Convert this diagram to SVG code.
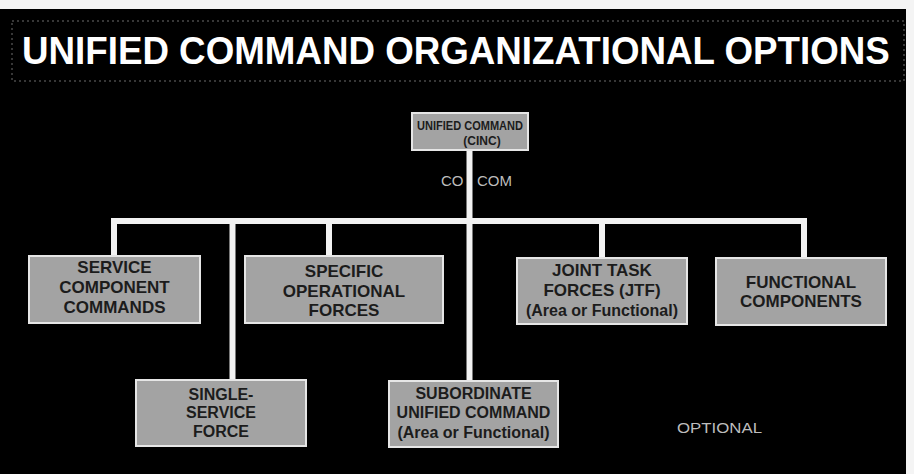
<svg xmlns="http://www.w3.org/2000/svg" width="914" height="474" viewBox="0 0 914 474">
  <defs>
    <style>
      .bg { fill: #000; }
      .box { fill: #a3a3a3; stroke: #e6e6e6; stroke-width: 2; }
      .bt { font-family: "Liberation Sans", Arial, sans-serif; font-weight: bold; font-size: 16px; fill: #1c1c1c; text-anchor: middle; }
      .title { font-family: "Liberation Sans", Arial, sans-serif; font-weight: bold; font-size: 39px; fill: #fff; }
      .lbl { font-family: "Liberation Sans", Arial, sans-serif; font-size: 15px; fill: #bdbdbd; }
      .conn line { stroke: #f2f2f2; stroke-width: 6; }
      .frame { fill: none; stroke: #6e6e6e; stroke-width: 1; stroke-dasharray: 2 3; }
    </style>
  </defs>
  <rect x="0" y="0" width="914" height="474" fill="#f4f4f4"/>
  <rect class="bg" x="0" y="9" width="906" height="465"/>
  <rect class="frame" x="12" y="21" width="892" height="60"/>
  <text class="title" transform="translate(22,64) scale(0.942,1)" x="0" y="0">UNIFIED COMMAND ORGANIZATIONAL OPTIONS</text>

  <g id="connectors" class="conn">
    <line x1="469.5" y1="150" x2="469.5" y2="381"/>
    <line x1="111" y1="221" x2="807" y2="221"/>
    <line x1="114" y1="218" x2="114" y2="256"/>
    <line x1="232.5" y1="218" x2="232.5" y2="380"/>
    <line x1="329" y1="218" x2="329" y2="256"/>
    <line x1="602" y1="218" x2="602" y2="258"/>
    <line x1="804" y1="218" x2="804" y2="258"/>
  </g>

  <g id="unified-command">
    <rect class="box" x="412" y="113" width="116" height="37"/>
    <text class="bt" x="470" y="130" style="font-size:12px" textLength="106" lengthAdjust="spacingAndGlyphs">UNIFIED COMMAND</text>
    <text class="bt" x="482" y="145" style="font-size:12px">(CINC)</text>
  </g>
  <text class="lbl" y="186"><tspan x="441">CO</tspan><tspan x="477">COM</tspan></text>

  <g id="service-components">
    <rect class="box" x="29" y="256" width="171" height="67"/>
    <text class="bt" x="114.5" y="273" style="font-size:17px">SERVICE</text>
    <text class="bt" x="114.5" y="293" style="font-size:17px">COMPONENT</text>
    <text class="bt" x="114.5" y="313" style="font-size:17px">COMMANDS</text>
  </g>

  <g id="specific-forces">
    <rect class="box" x="245" y="256" width="198" height="67"/>
    <text class="bt" x="344" y="277" style="font-size:17px">SPECIFIC</text>
    <text class="bt" x="344" y="297" style="font-size:17px">OPERATIONAL</text>
    <text class="bt" x="344" y="316" style="font-size:17px">FORCES</text>
  </g>

  <g id="joint-task-forces">
    <rect class="box" x="517" y="258" width="170" height="66"/>
    <text class="bt" x="602" y="276" style="font-size:17px">JOINT TASK</text>
    <text class="bt" x="602" y="296" style="font-size:17px">FORCES (JTF)</text>
    <text class="bt" x="602" y="316" style="font-size:16px">(Area or Functional)</text>
  </g>

  <g id="functional-components">
    <rect class="box" x="716" y="258" width="170" height="67"/>
    <text class="bt" x="801" y="288" style="font-size:17px">FUNCTIONAL</text>
    <text class="bt" x="801" y="307" style="font-size:17px">COMPONENTS</text>
  </g>

  <g id="single-service-force">
    <rect class="box" x="136" y="380" width="170" height="66"/>
    <text class="bt" x="221" y="400">SINGLE-</text>
    <text class="bt" x="221" y="418">SERVICE</text>
    <text class="bt" x="221" y="437">FORCE</text>
  </g>

  <g id="subordinate-unified">
    <rect class="box" x="389" y="381" width="169" height="66"/>
    <text class="bt" x="473.5" y="399">SUBORDINATE</text>
    <text class="bt" x="473.5" y="418">UNIFIED COMMAND</text>
    <text class="bt" x="473.5" y="438">(Area or Functional)</text>
  </g>

  <text class="lbl" x="677" y="433" textLength="85" lengthAdjust="spacingAndGlyphs">OPTIONAL</text>
</svg>
